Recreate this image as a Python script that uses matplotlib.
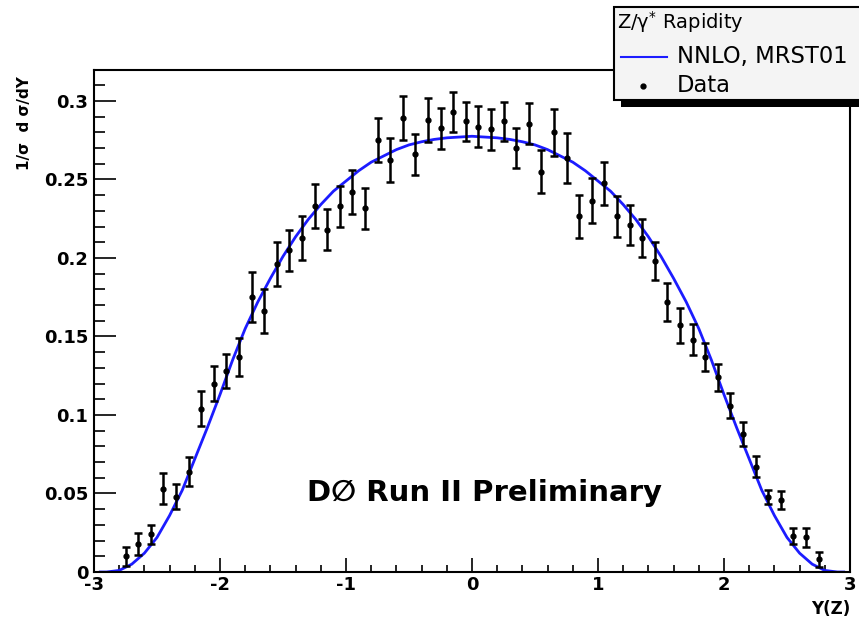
import numpy as np
import matplotlib
matplotlib.use("Agg")
import matplotlib.pyplot as plt
from matplotlib.patches import Rectangle
from matplotlib.ticker import MultipleLocator, FormatStrFormatter

plt.rcParams["font.family"] = ["DejaVu Sans"]
plt.rcParams["axes.unicode_minus"] = False
plt.rcParams["mathtext.default"] = "regular"

# -----------------------------
# Data
# -----------------------------
rap_bins = [-2.75, -2.65, -2.55, -2.45, -2.35, -2.25, -2.15, -2.05, -1.95, -1.85,
            -1.75, -1.65, -1.55, -1.45, -1.35, -1.25, -1.15, -1.05, -0.95, -0.85,
            -0.75, -0.65, -0.55, -0.45, -0.35, -0.25, -0.15, -0.05,
            0.05, 0.15, 0.25, 0.35, 0.45, 0.55, 0.65, 0.75, 0.85, 0.95,
            1.05, 1.15, 1.25, 1.35, 1.45, 1.55, 1.65, 1.75, 1.85, 1.95,
            2.05, 2.15, 2.25, 2.35, 2.45, 2.55, 2.65, 2.75]
data_vals = [0.010, 0.018, 0.024, 0.053, 0.048, 0.064, 0.104, 0.120, 0.128, 0.137,
             0.175, 0.166, 0.196, 0.205, 0.2125, 0.233, 0.218, 0.233, 0.242, 0.2315,
             0.275, 0.2625, 0.289, 0.266, 0.288, 0.2825, 0.293, 0.287,
             0.2835, 0.282, 0.287, 0.270, 0.2855, 0.255, 0.280, 0.2635, 0.2265, 0.2365,
             0.2475, 0.2265, 0.221, 0.2125, 0.198, 0.172, 0.157, 0.148, 0.137, 0.124,
             0.106, 0.088, 0.067, 0.048, 0.046, 0.023, 0.022, 0.008]
data_errs = [0.006, 0.007, 0.006, 0.010, 0.008, 0.009, 0.011, 0.011, 0.011, 0.012,
             0.016, 0.014, 0.014, 0.013, 0.014, 0.014, 0.013, 0.013, 0.014, 0.013,
             0.014, 0.014, 0.014, 0.013, 0.014, 0.013, 0.0125, 0.0125,
             0.013, 0.013, 0.0125, 0.0125, 0.013, 0.0135, 0.015, 0.016, 0.0135, 0.0145,
             0.0135, 0.013, 0.013, 0.012, 0.012, 0.012, 0.011, 0.010, 0.009, 0.0087,
             0.008, 0.0075, 0.0066, 0.0045, 0.0056, 0.005, 0.0058, 0.0045]

# NNLO prediction (blue curve)
nnlo_x = [-2.95, -2.9, -2.8, -2.7, -2.6, -2.5, -2.4, -2.3, -2.2, -2.1, -2.0, -1.9, -1.8,
          -1.7, -1.6, -1.5, -1.4, -1.3, -1.2, -1.1, -1.0, -0.9, -0.8, -0.7, -0.6,
          -0.5, -0.4, -0.3, -0.2, -0.1, 0.0, 0.1, 0.2, 0.3, 0.4, 0.5, 0.6, 0.7,
          0.8, 0.9, 1.0, 1.1, 1.2, 1.3, 1.4, 1.5, 1.6, 1.7, 1.8, 1.9, 2.0, 2.1,
          2.2, 2.3, 2.4, 2.5, 2.6, 2.7, 2.8, 2.9, 2.95]
nnlo_y = [0.0, 0.0, 0.001, 0.005, 0.012, 0.022, 0.036, 0.052, 0.072, 0.092, 0.113, 0.135, 0.155,
          0.172, 0.187, 0.201, 0.2135, 0.2245, 0.234, 0.2425, 0.249, 0.2555, 0.261, 0.265, 0.269,
          0.272, 0.274, 0.2755, 0.2765, 0.277, 0.2775, 0.277, 0.2765, 0.2755, 0.274, 0.272, 0.269, 0.265,
          0.261, 0.2555, 0.249, 0.2425, 0.234, 0.2245, 0.2135, 0.201, 0.187, 0.172, 0.155, 0.135, 0.113, 0.092,
          0.072, 0.052, 0.036, 0.022, 0.012, 0.005, 0.001, 0.0, 0.0]

x_ticks = [-3, -2, -1, 0, 1, 2, 3]
y_ticks = [0, 0.05, 0.1, 0.15, 0.2, 0.25, 0.3]

W, H = 859, 625
fig = plt.figure(figsize=(W / 100, H / 100), dpi=100)
ax = fig.add_axes([94 / W, 1 - 572 / H, (850 - 94) / W, (572 - 70) / H])

ax.plot(nnlo_x, nnlo_y, color="#1c1cff", lw=2.0, zorder=2)
ax.errorbar(rap_bins, data_vals, yerr=data_errs, fmt="o", color="black",
            markersize=3.5, elinewidth=1.8, capsize=3, capthick=1.8, zorder=3)

ax.set_xlim(-3, 3)
ax.set_ylim(0, 0.3197)
ax.set_xticks(x_ticks)
ax.set_yticks(y_ticks)
ax.yaxis.set_major_formatter(FormatStrFormatter("%g"))
ax.xaxis.set_minor_locator(MultipleLocator(0.2))
ax.yaxis.set_minor_locator(MultipleLocator(0.01))
ax.tick_params(axis="y", which="major", direction="in", length=16, width=1.2,
               labelsize=13, pad=4)
ax.tick_params(axis="y", which="minor", direction="in", length=8, width=1.2)
ax.tick_params(axis="x", which="major", direction="in", length=10, width=1.2,
               labelsize=13, pad=3)
ax.tick_params(axis="x", which="minor", direction="in", length=5, width=1.2)
for lab in ax.get_xticklabels() + ax.get_yticklabels():
    lab.set_fontweight("bold")
for sp in ax.spines.values():
    sp.set_linewidth(1.5)

ax.text(0.1, 0.05, "D\u2205 Run II Preliminary", fontsize=21, fontweight="bold",
        ha="center", va="center", zorder=4)

# overlay in pixel coordinates for labels and legend
ov = fig.add_axes([0, 0, 1, 1], facecolor="none")
ov.set_xlim(0, W)
ov.set_ylim(H, 0)
ov.axis("off")

ov.text(25, 123, "1/\u03c3  d \u03c3/dY", rotation=90, fontsize=11, fontweight="bold",
        ha="center", va="center")
ov.text(850, 609, "Y(Z)", fontsize=12, fontweight="bold", ha="right", va="center")

# legend box with shadow
ov.add_patch(Rectangle((621, 13), 260, 94, facecolor="black", edgecolor="none", zorder=5))
ov.add_patch(Rectangle((614, 7), 260, 93, facecolor="#f4f4f4", edgecolor="black",
                       lw=1.5, zorder=6))
ov.text(617, 22, "Z/$\\gamma^{*}$ Rapidity", fontsize=14, ha="left", va="center", zorder=7)
ov.plot([621, 667], [57, 57], color="#1c1cff", lw=1.5, zorder=7)
ov.text(677, 57, "NNLO, MRST01", fontsize=16.3, ha="left", va="center", zorder=7)
ov.plot([643], [86], "o", color="black", markersize=3.5, zorder=7)
ov.text(677, 86, "Data", fontsize=16.3, ha="left", va="center", zorder=7)

fig.savefig("out.png", dpi=100)
